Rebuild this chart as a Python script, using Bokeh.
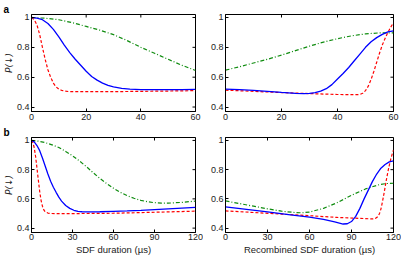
import math
from bokeh.plotting import figure
from bokeh.layouts import column, row
from bokeh.models import FixedTicker, NumeralTickFormatter, Range1d
from bokeh.embed import file_html
from bokeh.resources import INLINE

# ---------------- data ----------------
# panel a, left: SDF duration 0..60 us
a1_green_x = [0, 5, 10, 15, 20, 25, 30, 35, 40, 45, 50, 55, 60]
a1_green_y = [1.0, 0.995, 0.985, 0.965, 0.94, 0.915, 0.885, 0.845, 0.80, 0.76, 0.72, 0.68, 0.645]
a1_blue_x = [0, 2, 4, 6, 8, 10, 12, 14, 16, 18, 20, 22, 24, 26, 28, 30, 33, 36, 40, 45, 50, 55, 60]
a1_blue_y = [1.0, 0.995, 0.985, 0.96, 0.92, 0.87, 0.815, 0.765, 0.72, 0.68, 0.64, 0.605, 0.58, 0.56,
             0.545, 0.535, 0.525, 0.52, 0.517, 0.516, 0.516, 0.517, 0.518]
a1_red_x = [0, 1, 2, 3, 4, 5, 6, 7, 8, 9, 10, 11, 12, 14, 16, 20, 30, 40, 50, 60]
a1_red_y = [1.0, 0.985, 0.95, 0.885, 0.80, 0.72, 0.65, 0.60, 0.56, 0.535, 0.52, 0.512, 0.507, 0.503,
            0.503, 0.503, 0.503, 0.505, 0.507, 0.51]

# panel a, right: recombined 0..60 us
a2_green_x = [0, 5, 10, 15, 20, 25, 30, 35, 40, 45, 50, 55, 60]
a2_green_y = [0.647, 0.67, 0.695, 0.72, 0.748, 0.778, 0.808, 0.835, 0.858, 0.877, 0.89, 0.897, 0.897]
a2_blue_x = [0, 5, 10, 15, 20, 25, 28, 30, 32, 34, 36, 38, 40, 42, 44, 46, 48, 50, 52, 54, 56, 58, 60]
a2_blue_y = [0.52, 0.517, 0.512, 0.505, 0.498, 0.492, 0.49, 0.491, 0.496, 0.507, 0.523, 0.55, 0.588,
             0.625, 0.665, 0.71, 0.755, 0.80, 0.837, 0.865, 0.887, 0.903, 0.91]
a2_red_x = [0, 10, 20, 30, 40, 46, 48, 49, 50, 51, 52, 53, 54, 55, 56, 57, 58, 59, 60]
a2_red_y = [0.513, 0.505, 0.497, 0.49, 0.484, 0.483, 0.484, 0.492, 0.51, 0.54, 0.585, 0.64, 0.70,
            0.76, 0.815, 0.86, 0.90, 0.935, 0.965]

# panel b, left: SDF duration 0..120 us
b1_green_x = [0, 5, 10, 15, 20, 25, 30, 35, 40, 45, 50, 55, 60, 65, 70, 75, 80, 85, 90, 95, 100, 110, 120]
b1_green_y = [1.0, 0.995, 0.985, 0.97, 0.952, 0.925, 0.895, 0.86, 0.822, 0.78, 0.74, 0.705, 0.673,
              0.645, 0.622, 0.604, 0.59, 0.58, 0.574, 0.571, 0.571, 0.576, 0.585]
b1_blue_x = [0, 2, 4, 6, 8, 10, 12, 14, 16, 18, 20, 22, 25, 28, 31, 34, 37, 40, 50, 60, 70, 80, 90,
             100, 110, 120]
b1_blue_y = [1.0, 0.99, 0.965, 0.93, 0.88, 0.825, 0.77, 0.72, 0.68, 0.645, 0.612, 0.585, 0.555, 0.535,
             0.522, 0.515, 0.512, 0.511, 0.512, 0.515, 0.518, 0.522, 0.527, 0.532, 0.537, 0.542]
b1_red_x = [0, 1, 2, 3, 4, 5, 6, 7, 8, 9, 10, 12, 14, 20, 40, 60, 80, 100, 120]
b1_red_y = [1.0, 0.985, 0.95, 0.89, 0.81, 0.73, 0.65, 0.59, 0.55, 0.525, 0.512, 0.503, 0.50, 0.499,
            0.50, 0.502, 0.506, 0.511, 0.516]

# panel b, right: recombined 0..120 us
b2_green_x = [0, 10, 20, 30, 40, 50, 55, 60, 70, 80, 90, 100, 110, 115, 120]
b2_green_y = [0.586, 0.568, 0.55, 0.532, 0.516, 0.506, 0.505, 0.51, 0.535, 0.575, 0.625, 0.668,
              0.698, 0.705, 0.707]
b2_blue_x = [0, 15, 30, 45, 60, 70, 78, 84, 87, 90, 93, 96, 99, 102, 105, 108, 111, 114, 117, 120]
b2_blue_y = [0.545, 0.528, 0.511, 0.493, 0.475, 0.46, 0.442, 0.428, 0.43, 0.445, 0.48, 0.535, 0.60,
             0.66, 0.72, 0.77, 0.81, 0.835, 0.853, 0.86]
b2_red_x = [0, 20, 40, 60, 80, 100, 105, 107, 109, 110, 111, 112, 113, 114, 115, 116, 117, 118, 119, 120]
b2_red_y = [0.518, 0.507, 0.496, 0.485, 0.473, 0.465, 0.463, 0.466, 0.48, 0.50, 0.53, 0.575, 0.625,
            0.68, 0.735, 0.785, 0.83, 0.87, 0.905, 0.935]

a_xticks = [0, 20, 40, 60]
b_xticks = [0, 30, 60, 90, 120]
y_ticks = [0.4, 0.6, 0.8, 1.0]
y_label = "P(↓)"
x_label_left = "SDF duration (µs)"
x_label_right = "Recombined SDF duration (µs)"

FONT = "Liberation Sans"
GREEN = "#0f8c0f"
BLUE = "#0000ff"
RED = "#ff0000"
Y0, Y1 = 0.37, 1.02


def style_axis(ax, ticks, fmt=None):
    ax.ticker = FixedTicker(ticks=ticks)
    ax.major_tick_in = 3
    ax.major_tick_out = 0
    ax.minor_tick_in = 0
    ax.minor_tick_out = 0
    ax.axis_line_color = "black"
    ax.axis_line_width = 1
    ax.major_tick_line_color = "black"
    ax.major_label_text_font = FONT
    ax.major_label_text_color = "#222222"
    ax.major_label_text_font_size = "9px"
    ax.major_label_standoff = 2
    ax.axis_label_text_font = FONT
    ax.axis_label_text_font_size = "9.5px"
    ax.axis_label_text_font_style = "normal"
    ax.axis_label_text_color = "#222222"
    if fmt is not None:
        ax.formatter = fmt


def panel(xmax, xticks, w, h, bl, br, bt, bb, series, ylab=None, xlab=None, tag=None):
    p = figure(width=w, height=h, x_range=Range1d(0, xmax), y_range=Range1d(Y0, Y1),
               output_backend="svg", toolbar_location=None,
               min_border_left=bl, min_border_right=br, min_border_top=bt, min_border_bottom=bb)
    p.xgrid.visible = False
    p.ygrid.visible = False
    p.outline_line_color = "black"
    p.outline_line_width = 1
    xax = p.xaxis[0]
    yax = p.yaxis[0]
    style_axis(xax, xticks)
    style_axis(yax, y_ticks, fmt=NumeralTickFormatter(format="0.[0]"))
    if ylab:
        yax.axis_label = ylab
        yax.axis_label_text_font = "DejaVu Sans"
        yax.axis_label_text_font_size = "9px"
        yax.axis_label_text_font_style = "italic"
        yax.axis_label_standoff = 0
    if xlab:
        xax.axis_label = xlab
        xax.axis_label_standoff = 1
        xax.major_label_standoff = 1
    # inward ticks on the top and right edges of the box (half of each dash is clipped away)
    p.scatter(xticks, [Y1] * len(xticks), marker="dash", size=6, angle=math.pi / 2,
              line_color="black", line_width=1)
    p.scatter([xmax] * len(y_ticks), y_ticks, marker="dash", size=6,
              line_color="black", line_width=1)
    gx, gy, bx, by, rx, ry = series
    p.line(gx, gy, line_color=GREEN, line_width=1.2, line_dash="4 2 1 2")
    p.line(rx, ry, line_color=RED, line_width=1.2, line_dash="3 2")
    p.line(bx, by, line_color=BLUE, line_width=1.3)
    if tag:
        p.title.text = tag
        p.title.align = "left"
        p.title.offset = -(bl - 3)
        p.title.standoff = 0
        p.title.text_font = FONT
        p.title.text_font_size = "10px"
        p.title.text_font_style = "bold"
        p.title.text_color = "black"
    return p


H1, H2 = 124, 133
pa1 = panel(60, a_xticks, 203, H1, 31, 8, 14, 13,
            (a1_green_x, a1_green_y, a1_blue_x, a1_blue_y, a1_red_x, a1_red_y), ylab=y_label, tag="a")
pa2 = panel(60, a_xticks, 198, H1, 22, 8, 14, 13,
            (a2_green_x, a2_green_y, a2_blue_x, a2_blue_y, a2_red_x, a2_red_y))
pb1 = panel(120, b_xticks, 203, H2, 31, 8, 12, 24,
            (b1_green_x, b1_green_y, b1_blue_x, b1_blue_y, b1_red_x, b1_red_y), ylab=y_label,
            xlab=x_label_left, tag="b")
pb2 = panel(120, b_xticks, 198, H2, 22, 8, 12, 24,
            (b2_green_x, b2_green_y, b2_blue_x, b2_blue_y, b2_red_x, b2_red_y), xlab=x_label_right)

layout = column(row(pa1, pa2), row(pb1, pb2))
open("out.html", "w").write(file_html(layout, INLINE))
